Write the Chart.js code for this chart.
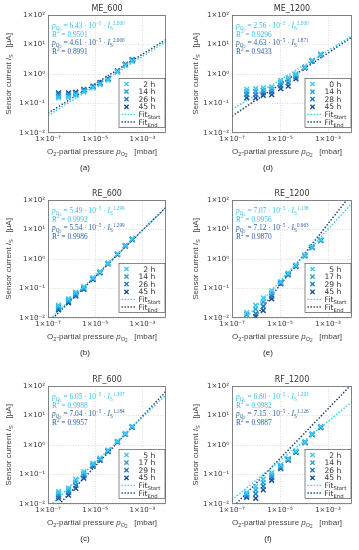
<!DOCTYPE html>
<html>
<head>
<meta charset="utf-8">
<script src="https://cdn.jsdelivr.net/npm/chart.js"></script>
<style>
  body { margin: 0; background: #fff; }
  #wrap { position: relative; width: 359px; height: 550px; }
  canvas { position: absolute; }
</style>
</head>
<body>
<div id="wrap"></div>
<script>
// O2 partial pressures (mbar), left and right column
const pressLeft = [2.8e-7, 7.4e-7, 1.5e-6, 3.3e-6, 8.1e-6, 1.6e-5, 3.5e-5, 8.8e-5, 1.9e-4, 3.7e-4];
const pressRight = [4.1e-7, 9.7e-7, 2.0e-6, 4.5e-6, 1.07e-5, 2.2e-5, 4.6e-5, 1.1e-4, 2.2e-4, 5.0e-4];
const fitRange = [1e-7, 1e-2];

const xTicks = [1e-7, 1e-5, 1e-3];
const xTickLabels = ['1×10⁻⁷', '1×10⁻⁵', '1×10⁻³'];
const yTicks = [1e-2, 1e-1, 1e0, 1e1, 1e2];
const yTickLabels = ['1×10⁻²', '1×10⁻¹', '1×10⁰', '1×10¹', '1×10²'];

// ME_600
const timesME600 = ['2 h', '14 h', '26 h', '45 h'];
const currentME600 = [
  [0.155, 0.16, 0.19, 0.25, 0.34, 0.44, 0.62, 1.17, 1.97, 2.7],
  [0.18, 0.19, 0.21, 0.27, 0.36, 0.47, 0.66, 1.22, 2.05, 2.85],
  [0.21, 0.21, 0.23, 0.29, 0.38, 0.49, 0.68, 1.25, 2.1, 2.95],
  [0.23, 0.23, 0.24, 0.30, 0.39, 0.51, 0.70, 1.28, 2.15, 3.05]
];
const fitME600 = [[0.039, 12.5], [0.047, 14.7]];
const eqME600 = [['6.43', '2.000', '0.9501'], ['4.61', '2.000', '0.8991']];

// ME_1200
const timesME1200 = ['0 h', '14 h', '28 h', '45 h'];
const currentME1200 = [
  [0.30, 0.32, 0.34, 0.36, 0.60, 0.75, 1.0, 1.75, 2.9, 4.7],
  [0.25, 0.26, 0.28, 0.30, 0.50, 0.63, 0.9, 1.7, 2.85, 4.6],
  [0.20, 0.20, 0.23, 0.25, 0.40, 0.50, 0.78, 1.65, 2.8, 4.55],
  [0.155, 0.155, 0.19, 0.20, 0.32, 0.39, 0.69, 1.6, 2.75, 4.5]
];
const fitME1200 = [[0.0625, 19.8], [0.0376, 17.7]];
const eqME1200 = [['2.56', '2.000', '0.9296'], ['4.63', '1.871', '0.9433']];

// RE_600
const timesRE600 = ['2 h', '14 h', '26 h', '45 h'];
const currentRE600 = [
  [0.027, 0.045, 0.075, 0.115, 0.23, 0.37, 0.73, 1.5, 2.9, 4.8],
  [0.024, 0.040, 0.067, 0.105, 0.22, 0.36, 0.71, 1.47, 2.85, 4.7],
  [0.021, 0.036, 0.060, 0.098, 0.21, 0.35, 0.70, 1.44, 2.8, 4.6],
  [0.019, 0.033, 0.055, 0.093, 0.20, 0.34, 0.69, 1.42, 2.75, 4.5]
];
const fitRE600 = [[0.0078, 55], [0.0068, 57]];
const eqRE600 = [['5.49', '1.299', '0.9992'], ['5.54', '1.299', '0.9986']];

// RE_1200
const timesRE1200 = ['5 h', '17 h', '29 h', '45 h'];
const currentRE1200 = [
  [0.015, 0.027, 0.048, 0.085, 0.17, 0.33, 0.62, 1.35, 2.6, 4.5],
  [0.013, 0.020, 0.035, 0.07, 0.16, 0.32, 0.60, 1.32, 2.55, 4.4],
  [null, 0.014, 0.025, 0.055, 0.15, 0.30, 0.58, 1.30, 2.5, 4.3],
  [null, 0.011, 0.018, 0.045, 0.145, 0.29, 0.56, 1.28, 2.45, 4.2]
];
const fitRE1200 = [[0.0031, 77.6], [0.0011, 170]];
const eqRE1200 = [['7.07', '1.138', '0.9956'], ['7.12', '0.963', '0.9870']];

// RF_600
const timesRF600 = ['5 h', '17 h', '29 h', '45 h'];
const currentRF600 = [
  [0.026, 0.035, 0.069, 0.124, 0.24, 0.36, 0.67, 1.35, 2.45, 4.3],
  [0.022, 0.030, 0.055, 0.105, 0.22, 0.34, 0.65, 1.3, 2.4, 4.2],
  [0.018, 0.025, 0.043, 0.09, 0.20, 0.32, 0.62, 1.27, 2.35, 4.1],
  [0.0155, 0.020, 0.034, 0.075, 0.19, 0.30, 0.60, 1.25, 2.3, 4.0]
];
const fitRF600 = [[0.0075, 50], [0.0039, 66]];
const eqRF600 = [['6.05', '1.307', '0.9988'], ['7.04', '1.184', '0.9957']];

// RF_1200
const timesRF1200 = ['2 h', '14 h', '26 h', '45 h'];
const currentRF1200 = [
  [0.024, 0.039, 0.069, 0.115, 0.21, 0.35, 0.62, 1.28, 2.4, 4.2],
  [0.021, 0.030, 0.053, 0.095, 0.19, 0.34, 0.60, 1.25, 2.35, 4.1],
  [0.019, 0.022, 0.040, 0.078, 0.17, 0.32, 0.58, 1.22, 2.3, 4.0],
  [0.017, 0.0155, 0.030, 0.064, 0.16, 0.31, 0.56, 1.2, 2.25, 3.9]
];
const fitRF1200 = [[0.0138, 29], [0.0072, 117]];
const eqRF1200 = [['6.80', '1.263', '0.9982'], ['7.15', '1.126', '0.9887']];

const seriesColors = ['#3ec8f2', '#26a2de', '#1f78c4', '#1c4d92'];
const fitColors = ['#3ec8f2', '#1b3c78'];
const eqColors = ['#36bdee', '#2c62ab'];

const panels = [
  { name: 'ME_600', tag: '(a)', col: 0, row: 0, press: pressLeft, times: timesME600, cur: currentME600, fit: fitME600, eq: eqME600 },
  { name: 'ME_1200', tag: '(d)', col: 1, row: 0, press: pressRight, times: timesME1200, cur: currentME1200, fit: fitME1200, eq: eqME1200 },
  { name: 'RE_600', tag: '(b)', col: 0, row: 1, press: pressLeft, times: timesRE600, cur: currentRE600, fit: fitRE600, eq: eqRE600 },
  { name: 'RE_1200', tag: '(e)', col: 1, row: 1, press: pressRight, times: timesRE1200, cur: currentRE1200, fit: fitRE1200, eq: eqRE1200 },
  { name: 'RF_600', tag: '(c)', col: 0, row: 2, press: pressLeft, times: timesRF600, cur: currentRF600, fit: fitRF600, eq: eqRF600 },
  { name: 'RF_1200', tag: '(f)', col: 1, row: 2, press: pressRight, times: timesRF1200, cur: currentRF1200, fit: fitRF1200, eq: eqRF1200 }
];

// column geometry (canvas-local)
const cols = [
  { x: 0, w: 180, left: 48, right: 166, yTitleX: 8, tagX: 85 },
  { x: 180, w: 179, left: 52, right: 172, yTitleX: 15, tagX: 88 }
];
const rowTops = [0, 185, 371];
const H = 186, TOP = 15, BOTTOM = 133;

// draws text made of runs: [text, flags]  i=italic b=sub bb=subsub u=sup
function rich(ctx, parts, x, y, size, family, align) {
  const font = f => {
    let s = size;
    if (f.includes('bb')) s = size * 0.58;
    else if (f.includes('b') || f.includes('u')) s = size * 0.7;
    return (f.includes('i') ? 'italic ' : '') + s.toFixed(2) + 'px ' + family;
  };
  const dy = f => {
    if (f.includes('bb')) return size * 0.42;
    if (f.includes('b')) return size * 0.28;
    if (f.includes('u')) return -size * 0.42;
    return 0;
  };
  let w = 0;
  parts.forEach(p => { ctx.font = font(p[1] || ''); w += ctx.measureText(p[0]).width; });
  let cx = align === 'center' ? x - w / 2 : x;
  ctx.textAlign = 'left';
  ctx.textBaseline = 'alphabetic';
  parts.forEach(p => {
    const f = p[1] || '';
    ctx.font = font(f);
    ctx.fillText(p[0], cx, y + dy(f));
    cx += ctx.measureText(p[0]).width;
  });
}

function cross(ctx, x, y, r, color) {
  ctx.strokeStyle = color;
  ctx.lineWidth = 1.4;
  ctx.beginPath();
  ctx.moveTo(x - r, y - r); ctx.lineTo(x + r, y + r);
  ctx.moveTo(x - r, y + r); ctx.lineTo(x + r, y - r);
  ctx.stroke();
}

const decor = {
  id: 'decor',
  afterDraw(chart) {
    const p = chart.canvas.panel, c = cols[p.col];
    const ctx = chart.ctx, a = chart.chartArea;
    const sans = '"Liberation Sans", Arial, sans-serif';
    const serif = '"Liberation Serif", serif';
    ctx.save();
    // frame
    ctx.strokeStyle = '#666';
    ctx.lineWidth = 0.8;
    ctx.strokeRect(a.left + 0.5, a.top + 0.5, a.right - a.left - 1, a.bottom - a.top - 1);

    // title
    ctx.fillStyle = '#333';
    rich(ctx, [[p.name, '']], (a.left + a.right) / 2, 11, 8, '"DejaVu Sans", sans-serif', 'center');

    // axis titles
    ctx.fillStyle = '#444';
    rich(ctx, [['O', ''], ['2', 'b'], ['-partial pressure ', ''], ['p', 'i'], ['O', 'b'], ['2', 'bb'], ['   [mbar]', '']],
      (a.left + a.right) / 2 - 5, 154, 8, sans, 'center');
    ctx.save();
    ctx.translate(c.yTitleX + 2.8, (a.top + a.bottom) / 2);
    ctx.rotate(-Math.PI / 2);
    rich(ctx, [['Sensor current ', ''], ['I', 'i'], ['S', 'b'], ['   [µA]', '']], 0, 0, 8, sans, 'center');
    ctx.restore();

    // panel tag
    ctx.fillStyle = '#222';
    rich(ctx, [[p.tag, '']], c.tagX, 170, 9, 'bold ' + serif, 'center');

    // fit equations
    const ex = a.left + 4;
    p.eq.forEach((e, k) => {
      ctx.fillStyle = eqColors[k];
      const y0 = a.top + 13 + k * 17.2;
      rich(ctx, [['p', 'i'], ['O', 'b'], ['2', 'bb'], [' = ' + e[0] + ' · 10', ''], ['−5', 'u'], [' · ', ''], ['I', 'i'], ['S', 'b'], [e[1], 'u']],
        ex, y0, 7.4, serif, 'left');
      rich(ctx, [['R', ''], ['2', 'u'], [' = ' + e[2], '']], ex, y0 + 8.6, 7.4, serif, 'left');
    });

    // legend
    const bw = 46, bh = 49;
    const bx = a.right - 1.5 - bw, by = a.bottom - 6 - bh;
    ctx.fillStyle = '#fff';
    ctx.fillRect(bx, by, bw, bh);
    ctx.strokeStyle = '#555';
    ctx.lineWidth = 0.7;
    ctx.strokeRect(bx + 0.5, by + 0.5, bw, bh);
    for (let i = 0; i < 6; i++) {
      const cy = by + 6 + i * 7.6;
      if (i < 4) {
        cross(ctx, bx + 8, cy, 2.1, seriesColors[i]);
        ctx.fillStyle = '#333';
        rich(ctx, [[p.times[i].padStart(4, '\u2007'), '']], bx + 20, cy + 2.6, 7.6, '"DejaVu Sans", sans-serif', 'left');
      } else {
        ctx.strokeStyle = fitColors[i - 4];
        ctx.lineWidth = 1.4;
        ctx.setLineDash([1.4, 1.6]);
        ctx.beginPath();
        ctx.moveTo(bx + 3, cy); ctx.lineTo(bx + 18, cy);
        ctx.stroke();
        ctx.setLineDash([]);
        ctx.fillStyle = '#333';
        rich(ctx, [['Fit', ''], [i === 4 ? 'Start' : 'End', 'b']], bx + 20, cy + 2.6, 7.6, '"DejaVu Sans", sans-serif', 'left');
      }
    }
    ctx.restore();
  }
};

const wrap = document.getElementById('wrap');

panels.forEach(p => {
  const c = cols[p.col];
  const canvas = document.createElement('canvas');
  canvas.width = c.w;
  canvas.height = H;
  canvas.style.left = c.x + 'px';
  canvas.style.top = rowTops[p.row] + 'px';
  canvas.panel = p;
  wrap.appendChild(canvas);

  const datasets = p.cur.map((vals, i) => ({
    label: p.times[i],
    data: vals.map((v, k) => ({ x: p.press[k], y: v })).filter(d => d.y !== null),
    pointStyle: 'crossRot',
    pointRadius: 3.4,
    pointBorderWidth: 1.5,
    borderColor: seriesColors[i],
    backgroundColor: seriesColors[i],
    showLine: false
  }));
  p.fit.forEach((f, i) => {
    datasets.push({
      label: i === 0 ? 'Fit Start' : 'Fit End',
      data: [{ x: fitRange[0], y: f[0] }, { x: fitRange[1], y: f[1] }],
      showLine: true,
      borderColor: fitColors[i],
      borderWidth: 1.5,
      borderDash: [1.4, 1.8],
      pointRadius: 0,
      fill: false
    });
  });

  new Chart(canvas.getContext('2d'), {
    type: 'scatter',
    data: { datasets: datasets },
    options: {
      responsive: false,
      animation: false,
      devicePixelRatio: 1,
      layout: { padding: { left: 0, top: TOP, right: c.w - c.right, bottom: 0 } },
      plugins: { legend: { display: false }, tooltip: { enabled: false } },
      scales: {
        x: {
          type: 'logarithmic',
          min: 1e-7,
          max: 1e-2,
          afterBuildTicks: s => { s.ticks = xTicks.map(v => ({ value: v })); },
          afterFit: s => { s.height = H - BOTTOM; },
          ticks: {
            autoSkip: false, maxRotation: 0, minRotation: 0, padding: 2,
            color: '#333', font: { family: '"DejaVu Sans", sans-serif', size: 7 },
            callback: v => xTickLabels[xTicks.findIndex(t => Math.abs(Math.log10(t) - Math.log10(v)) < 1e-6)]
          },
          grid: { color: '#cfcfcf', lineWidth: 0.7, drawTicks: false },
          border: { display: false, dash: [1, 1.5] }
        },
        y: {
          type: 'logarithmic',
          min: 1e-2,
          max: 1e2,
          afterBuildTicks: s => { s.ticks = yTicks.map(v => ({ value: v })); },
          afterFit: s => { s.width = c.left; },
          ticks: {
            autoSkip: false, padding: 3,
            color: '#333', font: { family: '"DejaVu Sans", sans-serif', size: 7 },
            callback: v => yTickLabels[yTicks.findIndex(t => Math.abs(Math.log10(t) - Math.log10(v)) < 1e-6)]
          },
          grid: { color: '#cfcfcf', lineWidth: 0.7, drawTicks: false },
          border: { display: false, dash: [1, 1.5] }
        }
      }
    },
    plugins: [decor]
  });
});
</script>
</body>
</html>
